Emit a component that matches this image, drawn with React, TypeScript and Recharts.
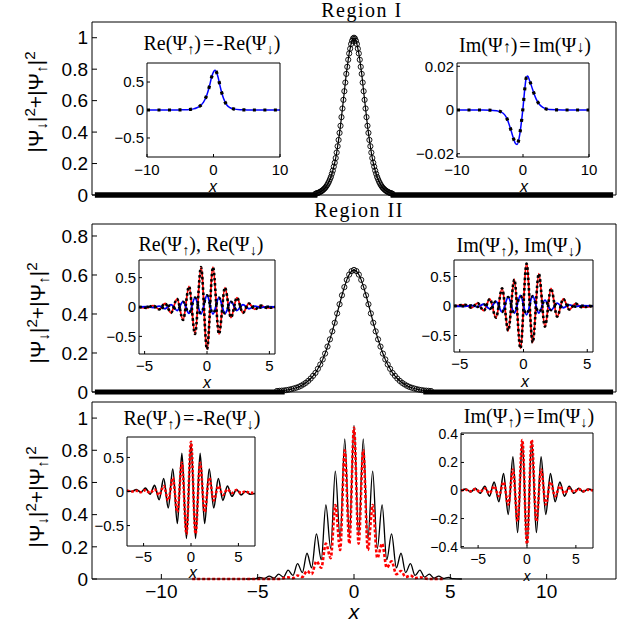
import React from 'react';
import { LineChart, Line, XAxis, YAxis } from 'recharts';

const SANS = '"Liberation Sans", Arial, Helvetica, sans-serif';
const SERIF = '"Liberation Serif", "Times New Roman", serif';

// ---------------- Panel I (main) : |psi|^2, sampled on x = -2 .. 2 step 0.05 ----------------
const P1_X0 = -2;
const P1_DX = 0.05;
const P1_DENS = [
  0.008, 0.010, 0.012, 0.014, 0.017, 0.020, 0.024, 0.028, 0.033, 0.039,
  0.045, 0.053, 0.062, 0.073, 0.085, 0.100, 0.115, 0.135, 0.155, 0.180,
  0.205, 0.235, 0.270, 0.310, 0.350, 0.395, 0.440, 0.495, 0.550, 0.605,
  0.660, 0.715, 0.770, 0.815, 0.860, 0.900, 0.930, 0.960, 0.980, 0.995,
  1.000,
  0.995, 0.980, 0.960, 0.930, 0.900, 0.860, 0.815, 0.770, 0.715, 0.660,
  0.605, 0.550, 0.495, 0.440, 0.395, 0.350, 0.310, 0.270, 0.235, 0.205,
  0.180, 0.155, 0.135, 0.115, 0.100, 0.085, 0.073, 0.062, 0.053, 0.045,
  0.039, 0.033, 0.028, 0.024, 0.020, 0.017, 0.014, 0.012, 0.010, 0.008,
];
const P1_TAIL_X = [-13.45, -1.9, 1.9, 13.45];

// Panel I insets
const I1_RE_X = [-10, -8, -6, -5, -4, -3, -2.5, -2, -1.5, -1, -0.6, -0.3, 0, 0.2, 0.4, 0.7, 1, 1.5, 2, 2.5, 3, 4, 5, 6, 8, 10];
const I1_RE_Y = [0, 0, 0, 0.002, 0.006, 0.02, 0.04, 0.075, 0.14, 0.27, 0.43, 0.58, 0.68, 0.71, 0.69, 0.58, 0.42, 0.21, 0.09, 0.04, 0.02, 0.005, 0.002, 0, 0, 0];
const I1_IM_X = [-10, -8, -6, -4, -3, -2.5, -2, -1.5, -1.2, -0.9, -0.6, -0.3, 0, 0.3, 0.5, 0.7, 1, 1.5, 2, 2.5, 3, 4, 6, 8, 10];
const I1_IM_Y = [0, 0, 0, -0.0003, -0.0015, -0.0035, -0.0075, -0.0125, -0.015, -0.0158, -0.013, -0.007, 0.001, 0.0105, 0.0148, 0.0155, 0.0135, 0.009, 0.005, 0.0025, 0.0012, 0.0002, 0, 0, 0];

// ---------------- Panel II (main) : sampled on x = -4 .. 4 step 0.125 ----------------
const P2_X0 = -4;
const P2_DX = 0.125;
const P2_DENS = [
  0.005, 0.006, 0.007, 0.008, 0.010, 0.012, 0.015, 0.018, 0.022, 0.026,
  0.032, 0.039, 0.047, 0.057, 0.069, 0.083, 0.098, 0.119, 0.141, 0.167,
  0.197, 0.233, 0.270, 0.311, 0.355, 0.403, 0.450, 0.496, 0.538, 0.575,
  0.602, 0.620,
  0.626,
  0.620, 0.602, 0.575, 0.538, 0.496, 0.450, 0.403, 0.355, 0.311, 0.270,
  0.233, 0.197, 0.167, 0.141, 0.119, 0.098, 0.083, 0.069, 0.057, 0.047,
  0.039, 0.032, 0.026, 0.022, 0.018, 0.015, 0.012, 0.010, 0.008, 0.007,
  0.006, 0.005,
];
const P2_TAIL_X = [-13.45, -3.6, 3.6, 13.45];

// Panel II insets
const I2_RE_X = [-5.45, -4.8, -4.32, -3.84, -3.36, -2.88, -2.4, -1.92, -1.44, -0.96, -0.48, 0, 0.48, 0.96, 1.44, 1.92, 2.4, 2.88, 3.36, 3.84, 4.32, 4.8, 5.45];
const I2_RE_RED = [0, -0.015, 0.025, -0.04, 0.06, -0.1, 0.14, -0.22, 0.35, -0.46, 0.68, -0.72, 0.68, -0.46, 0.33, -0.18, 0.16, -0.1, 0.06, -0.04, 0.025, -0.015, 0];
const I2_RE_BLUE = [0, 0.005, -0.01, 0.015, -0.03, 0.04, -0.06, 0.09, -0.11, 0.16, -0.12, 0.2, -0.12, 0.16, -0.11, 0.09, -0.06, 0.04, -0.03, 0.015, -0.01, 0.005, 0];
const I2_IM_X = [-5.45, -4.56, -4.08, -3.6, -3.12, -2.64, -2.16, -1.68, -1.2, -0.72, -0.24, 0.24, 0.72, 1.2, 1.68, 2.16, 2.64, 3.12, 3.6, 4.08, 4.56, 5.45];
const I2_IM_RED = [0, 0.02, -0.03, 0.05, -0.08, 0.12, -0.2, 0.3, -0.42, 0.45, -0.72, 0.72, -0.62, 0.55, -0.35, 0.3, -0.18, 0.12, -0.06, 0.04, -0.02, 0];
const I2_IM_BLUE = [0, -0.005, 0.01, -0.015, 0.03, -0.05, 0.08, -0.1, 0.15, -0.12, 0.18, -0.15, 0.17, -0.12, 0.1, -0.07, 0.05, -0.03, 0.02, -0.01, 0.005, 0];

// ---------------- Panel III (main) ----------------
const P3_BLACK_X = [-5.6, -5.15, -4.9, -4.65, -4.4, -4.15, -3.91, -3.66, -3.42, -3.17, -2.93, -2.68, -2.44, -2.2, -1.95, -1.7, -1.46, -1.21, -0.97, -0.72, -0.48, -0.24, 0,
  0.24, 0.48, 0.72, 0.97, 1.21, 1.46, 1.7, 1.95, 2.2, 2.44, 2.68, 2.93, 3.17, 3.42, 3.66, 3.91, 4.15, 4.4, 4.65, 4.9, 5.15, 5.6];
const P3_BLACK_Y = [0, 0.002, 0.01, 0.003, 0.018, 0.006, 0.03, 0.012, 0.055, 0.022, 0.095, 0.04, 0.16, 0.07, 0.28, 0.12, 0.46, 0.19, 0.67, 0.25, 0.87, 0.27, 0.955,
  0.27, 0.87, 0.25, 0.67, 0.19, 0.46, 0.12, 0.28, 0.07, 0.16, 0.04, 0.095, 0.022, 0.055, 0.012, 0.03, 0.006, 0.018, 0.003, 0.01, 0.002, 0];
const P3_RED_X = [-8.4, -3.9, -3.42, -3.17, -2.93, -2.68, -2.44, -2.2, -1.95, -1.7, -1.46, -1.21, -0.97, -0.72, -0.48, -0.24, 0,
  0.24, 0.48, 0.72, 0.97, 1.21, 1.46, 1.7, 1.95, 2.2, 2.44, 2.68, 2.93, 3.17, 3.42, 3.9, 4.7];
const P3_RED_Y = [0, 0, 0.01, 0.005, 0.022, 0.012, 0.05, 0.03, 0.11, 0.07, 0.22, 0.13, 0.46, 0.18, 0.80, 0.22, 0.94,
  0.22, 0.80, 0.18, 0.46, 0.13, 0.22, 0.07, 0.11, 0.03, 0.05, 0.012, 0.022, 0.005, 0.01, 0, 0];

// Panel III insets
const I3_X = [-6.75, -6.24, -5.76, -5.28, -4.8, -4.32, -3.84, -3.36, -2.88, -2.4, -1.92, -1.44, -0.96, -0.48, 0,
  0.48, 0.96, 1.44, 1.92, 2.4, 2.88, 3.36, 3.84, 4.32, 4.8, 5.28, 5.76, 6.24, 6.75];
const I3_RE_BLACK = [0.02, 0.0, 0.03, -0.01, 0.05, -0.04, 0.09, -0.12, 0.19, -0.24, 0.33, -0.47, 0.56, -0.69, 0.72,
  -0.69, 0.56, -0.47, 0.33, -0.24, 0.19, -0.13, 0.08, -0.07, 0.03, -0.05, 0.0, -0.04, -0.03];
const I3_RE_RED = [0.01, 0.0, 0.01, -0.01, 0.02, -0.02, 0.03, -0.05, 0.08, -0.13, 0.2, -0.3, 0.42, -0.62, 0.73,
  -0.62, 0.42, -0.3, 0.2, -0.13, 0.08, -0.05, 0.03, -0.02, 0.02, -0.02, 0.0, -0.02, -0.02];
const I3_IM_BLACK = [0, 0.01, -0.01, 0.015, -0.02, 0.03, -0.04, 0.06, -0.08, 0.12, -0.17, 0.24, -0.3, 0.35, -0.39,
  0.35, -0.3, 0.24, -0.17, 0.12, -0.08, 0.06, -0.04, 0.03, -0.02, 0.015, -0.01, 0.01, 0];
const I3_IM_RED = [0, 0.005, -0.005, 0.01, -0.01, 0.015, -0.02, 0.03, -0.04, 0.06, -0.1, 0.15, -0.22, 0.36, -0.38,
  0.36, -0.22, 0.15, -0.1, 0.06, -0.04, 0.03, -0.02, 0.015, -0.01, 0.01, -0.005, 0.005, 0];

const MAIN_X_TICKS = [-10, -5, 0, 5, 10];

// ---------------- helpers ----------------
type Pt = { x: number; y: number };
const zip = (xs: number[], ys: number[]): Pt[] => xs.map((x, i) => ({ x, y: ys[i] }));
const grid = (x0: number, dx: number, ys: number[]): Pt[] => ys.map((y, i) => ({ x: +(x0 + i * dx).toFixed(4), y }));
const zeros = (xs: number[]): Pt[] => xs.map((x) => ({ x, y: 0 }));
const fmt = (v: number) => String(v).replace('-', '\u2212');

type Series = {
  data: Pt[];
  color: string;
  width: number;
  dash?: string;
  circles?: boolean;
  curve?: 'linear' | 'monotone';
};

type PlotProps = {
  rect: [number, number, number, number];
  xDomain: [number, number];
  yDomain: [number, number];
  xTicks: number[];
  yTicks: number[];
  xLabels: boolean;
  fs: number;
  tl: number;
  yGap: number;
  xGap: number;
  series: Series[];
};

function Plot({ rect, xDomain, yDomain, xTicks, yTicks, xLabels, fs, tl, yGap, xGap, series }: PlotProps) {
  const [x0, y0, x1, y1] = rect;
  const padL = 60, padR = 20, padT = 6, padB = 34;
  const w = padL + (x1 - x0) + padR;
  const h = padT + (y1 - y0) + padB;
  const tickStyle = { fill: '#000', fontSize: fs, fontFamily: SANS };
  const line = { stroke: '#000', strokeWidth: 1 };
  return (
    <div style={{ position: 'absolute', left: x0 - padL, top: y0 - padT, width: w, height: h }}>
      <LineChart width={w} height={h} margin={{ top: padT - 1, right: padR - 1, bottom: 0, left: 0 }}>
        <XAxis xAxisId="b" dataKey="x" type="number" orientation="bottom" domain={xDomain} ticks={xTicks}
          interval={0} height={padB} tickSize={-tl} tickMargin={tl + xGap - 0.355 * fs}
          tick={xLabels ? tickStyle : false} tickFormatter={fmt} axisLine={line} tickLine={line} />
        <XAxis xAxisId="t" dataKey="x" type="number" orientation="top" domain={xDomain} ticks={xTicks}
          interval={0} height={1} tickSize={-tl} tick={false} axisLine={line} tickLine={line} />
        <YAxis yAxisId="l" type="number" orientation="left" domain={yDomain} ticks={yTicks} interval={0}
          width={padL} tickSize={-tl} tickMargin={tl + yGap} tick={tickStyle} tickFormatter={fmt}
          axisLine={line} tickLine={line} />
        <YAxis yAxisId="r" type="number" orientation="right" domain={yDomain} ticks={yTicks} interval={0}
          width={1} tickSize={-tl} tick={false} axisLine={line} tickLine={line} />
        {series.map((s, i) => (
          <Line key={i} xAxisId="b" yAxisId="l" data={s.data} dataKey="y" type={s.curve || 'linear'}
            stroke={s.color} strokeWidth={s.width} strokeDasharray={s.dash}
            dot={s.circles ? { r: 2.6, stroke: '#000', strokeWidth: 0.9, fill: 'none', strokeDasharray: '' } : false}
            activeDot={false} isAnimationActive={false} />
        ))}
      </LineChart>
    </div>
  );
}

const Sub = ({ c }: { c: string }) => (
  <span style={{ fontSize: '0.72em', position: 'relative', top: '0.28em' }}>{c}</span>
);
const Sup = ({ c }: { c: string }) => (
  <span style={{ fontSize: '0.72em', position: 'relative', top: '-0.5em' }}>{c}</span>
);

// text placed by its baseline; lh = line-box height as a fraction of the font size
function Txt({ x, base, size, family, italic, spacing, lh = 1, children }: any) {
  const L = lh * size;
  return (
    <div style={{
      position: 'absolute', left: x, top: base - L / 2 - 0.3465 * size, transform: 'translateX(-50%)',
      fontSize: size, lineHeight: `${L}px`, fontFamily: family, fontStyle: italic ? 'italic' : 'normal',
      whiteSpace: 'nowrap', letterSpacing: spacing || 0, color: '#000',
    }}>{children}</div>
  );
}

function YLab({ cx, cy }: { cx: number; cy: number }) {
  return (
    <div style={{
      position: 'absolute', left: cx, top: cy, transform: 'translate(-50%,-50%) rotate(-90deg)',
      fontSize: 21, lineHeight: '21px', fontFamily: SANS, whiteSpace: 'nowrap', color: '#000',
    }}>
      |Ψ<Sub c="↓" />|<Sup c="2" />+|Ψ<Sub c="↑" />|<Sup c="2" />
    </div>
  );
}

const ReTitle = (
  <>Re(Ψ<Sub c="↑" />)<span style={{ margin: '0 2px' }}>=</span>-Re(Ψ<Sub c="↓" />)</>
);
const ImTitleInline = (
  <>Im(Ψ<span style={{ fontSize: '0.8em' }}>↑</span>)<span style={{ margin: '0 2px' }}>=</span>Im(Ψ<span style={{ fontSize: '0.8em' }}>↓</span>)</>
);
const ImTitle = (
  <>Im(Ψ<Sub c="↑" />)<span style={{ margin: '0 2px' }}>=</span>Im(Ψ<Sub c="↓" />)</>
);

export default function App() {
  const mainX: [number, number] = [-13.6, 13.6];
  return (
    <div style={{ position: 'absolute', left: 0, top: 0, width: 624, height: 622, background: '#fff', overflow: 'hidden' }}>
      {/* Panel I */}
      <Plot rect={[92, 22, 616, 195]} xDomain={mainX} yDomain={[0, 1.1]} xTicks={MAIN_X_TICKS}
        yTicks={[0, 0.2, 0.4, 0.6, 0.8, 1]} xLabels={false} fs={19} tl={5} yGap={4} xGap={13}
        series={[
          { data: zeros(P1_TAIL_X.slice(0, 2)), color: '#000', width: 5.5 },
          { data: zeros(P1_TAIL_X.slice(2, 4)), color: '#000', width: 5.5 },
          { data: grid(P1_X0, P1_DX, P1_DENS), color: '#000', width: 1.2, circles: true },
        ]} />
      <Plot rect={[147, 63, 280, 157]} xDomain={[-10, 10]} yDomain={[-0.84, 0.84]} xTicks={[-10, 0, 10]}
        yTicks={[-0.5, 0, 0.5]} xLabels fs={15} tl={3} yGap={3} xGap={12.5}
        series={[
          { data: zip(I1_RE_X, I1_RE_Y), color: '#0000ff', width: 1.5, curve: 'monotone' },
          { data: zip(I1_RE_X, I1_RE_Y), color: '#000', width: 3.2, dash: '3 7.5', curve: 'monotone' },
        ]} />
      <Plot rect={[457, 63, 589, 157]} xDomain={[-10, 10]} yDomain={[-0.0215, 0.0215]} xTicks={[-10, 0, 10]}
        yTicks={[-0.02, 0, 0.02]} xLabels fs={15} tl={3} yGap={3} xGap={12.5}
        series={[
          { data: zip(I1_IM_X, I1_IM_Y), color: '#0000ff', width: 1.5, curve: 'monotone' },
          { data: zip(I1_IM_X, I1_IM_Y), color: '#000', width: 3.2, dash: '3 7.5', curve: 'monotone' },
        ]} />

      {/* Panel II */}
      <Plot rect={[92, 224, 616, 392]} xDomain={mainX} yDomain={[0, 0.8615]} xTicks={MAIN_X_TICKS}
        yTicks={[0, 0.2, 0.4, 0.6, 0.8]} xLabels={false} fs={19} tl={5} yGap={4} xGap={13}
        series={[
          { data: zeros(P2_TAIL_X.slice(0, 2)), color: '#000', width: 5 },
          { data: zeros(P2_TAIL_X.slice(2, 4)), color: '#000', width: 5 },
          { data: grid(P2_X0, P2_DX, P2_DENS), color: '#000', width: 1.2, circles: true },
        ]} />
      <Plot rect={[139, 260, 275, 354]} xDomain={[-5.45, 5.45]} yDomain={[-0.8, 0.8]} xTicks={[-5, 0, 5]}
        yTicks={[-0.5, 0, 0.5]} xLabels fs={15} tl={3} yGap={3} xGap={12}
        series={[
          { data: zip(I2_RE_X, I2_RE_RED), color: '#ff0000', width: 1.8, curve: 'monotone' },
          { data: zip(I2_RE_X, I2_RE_BLUE), color: '#0000ff', width: 1.8, curve: 'monotone' },
          { data: zip(I2_RE_X, I2_RE_RED), color: '#000', width: 2.6, dash: '2.6 2.6', curve: 'monotone' },
          { data: zip(I2_RE_X, I2_RE_BLUE), color: '#000', width: 2.6, dash: '2.6 5', curve: 'monotone' },
        ]} />
      <Plot rect={[454, 260, 593, 352]} xDomain={[-5.45, 5.45]} yDomain={[-0.78, 0.78]} xTicks={[-5, 0, 5]}
        yTicks={[-0.5, 0, 0.5]} xLabels fs={15} tl={3} yGap={3} xGap={11.5}
        series={[
          { data: zip(I2_IM_X, I2_IM_RED), color: '#ff0000', width: 1.8, curve: 'monotone' },
          { data: zip(I2_IM_X, I2_IM_BLUE), color: '#0000ff', width: 1.8, curve: 'monotone' },
          { data: zip(I2_IM_X, I2_IM_RED), color: '#000', width: 2.6, dash: '2.6 2.6', curve: 'monotone' },
          { data: zip(I2_IM_X, I2_IM_BLUE), color: '#000', width: 2.6, dash: '2.6 5', curve: 'monotone' },
        ]} />

      {/* Panel III */}
      <Plot rect={[92, 402, 616, 579]} xDomain={mainX} yDomain={[0, 1.1]} xTicks={MAIN_X_TICKS}
        yTicks={[0, 0.2, 0.4, 0.6, 0.8, 1]} xLabels fs={19} tl={5} yGap={4} xGap={12.5}
        series={[
          { data: zip(P3_BLACK_X, P3_BLACK_Y), color: '#000', width: 1.3, curve: 'monotone' },
          { data: zip(P3_RED_X, P3_RED_Y), color: '#ff0000', width: 2.6, dash: '3 2', curve: 'monotone' },
        ]} />
      <Plot rect={[127, 437, 255, 546]} xDomain={[-6.75, 6.75]} yDomain={[-0.8, 0.8]} xTicks={[-5, 0, 5]}
        yTicks={[-0.5, 0, 0.5]} xLabels fs={15} tl={3} yGap={3} xGap={10.5}
        series={[
          { data: zip(I3_X, I3_RE_BLACK), color: '#000', width: 1.6, curve: 'monotone' },
          { data: zip(I3_X, I3_RE_RED), color: '#ff0000', width: 2.6, dash: '2.5 1.8', curve: 'monotone' },
        ]} />
      <Plot rect={[461, 433, 593, 548]} xDomain={[-6.75, 6.75]} yDomain={[-0.41, 0.41]} xTicks={[-5, 0, 5]}
        yTicks={[-0.4, -0.2, 0, 0.2, 0.4]} xLabels fs={14} tl={3} yGap={3} xGap={11}
        series={[
          { data: zip(I3_X, I3_IM_BLACK), color: '#000', width: 1.6, curve: 'monotone' },
          { data: zip(I3_X, I3_IM_RED), color: '#ff0000', width: 2.6, dash: '2.5 1.8', curve: 'monotone' },
        ]} />

      {/* Text */}
      <Txt x={362} base={16.5} size={20} family={SERIF} spacing={1.5}>Region I</Txt>
      <Txt x={359} base={217} size={20} family={SERIF} spacing={1.5}>Region II</Txt>
      <Txt x={212} base={50} size={20} family={SERIF}>{ReTitle}</Txt>
      <Txt x={525} base={52} size={20} family={SERIF}>{ImTitleInline}</Txt>
      <Txt x={201} base={250.5} size={20} family={SERIF}>Re(Ψ<Sub c="↑" />), Re(Ψ<Sub c="↓" />)</Txt>
      <Txt x={519} base={251.5} size={20} family={SERIF}>Im(Ψ<Sub c="↑" />), Im(Ψ<Sub c="↓" />)</Txt>
      <Txt x={192} base={425} size={20} family={SERIF}>{ReTitle}</Txt>
      <Txt x={529} base={423} size={20} family={SERIF}>{ImTitle}</Txt>

      <Txt x={213} base={192} size={16} lh={0.6} family={SANS} italic>x</Txt>
      <Txt x={524} base={192} size={16} lh={0.6} family={SANS} italic>x</Txt>
      <Txt x={207} base={388} size={16} lh={0.6} family={SANS} italic>x</Txt>
      <Txt x={525} base={387} size={16} lh={0.6} family={SANS} italic>x</Txt>
      <Txt x={193} base={578} size={16} lh={0.6} family={SANS} italic>x</Txt>
      <Txt x={527} base={581} size={14} lh={0.6} family={SANS} italic>x</Txt>
      <Txt x={354} base={620} size={21} lh={0.6} family={SANS} italic>x</Txt>

      <YLab cx={36} cy={102} />
      <YLab cx={38} cy={313} />
      <YLab cx={37} cy={497} />
    </div>
  );
}
